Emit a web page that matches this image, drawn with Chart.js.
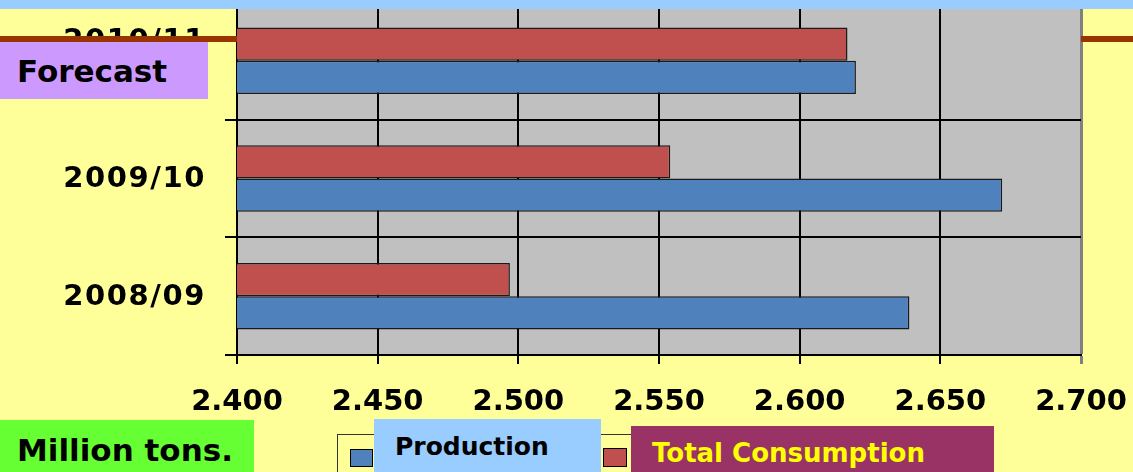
<!DOCTYPE html>
<html>
<head>
<meta charset="utf-8">
<script src="https://cdn.jsdelivr.net/npm/chart.js@4.4.1/dist/chart.umd.min.js"></script>
<style>
  body { margin: 0; background: #FFFF99; }
  #wrap {
    position: relative; width: 1133px; height: 472px; overflow: hidden;
    background: #FFFF99; font-family: "DejaVu Sans", Verdana, sans-serif; font-weight: bold;
  }
  canvas { position: absolute; left: 0; top: 0; }
  .box { position: absolute; white-space: nowrap; box-sizing: border-box; }
</style>
</head>
<body>
<div id="wrap">
  <canvas id="c" width="1133" height="472"></canvas>
  <div class="box" style="left:0;top:0;width:1133px;height:9px;background:#99CCFF"></div>
  <div class="box" style="left:0;top:42px;width:208px;height:57px;background:#CC99FF;color:#000;font-size:31px;line-height:59px;padding-left:17px">Forecast</div>
  <div class="box" style="left:0;top:420px;width:254px;height:60px;background:#66FF33;color:#000;font-size:31px;line-height:60px;padding-left:17px">Million tons.</div>
  <div id="legend"></div>
</div>
<script>
// Season categories (top to bottom) and values in million tons
const categories  = ['2010/11', '2009/10', '2008/09'];
const production  = [2620, 2672, 2639];
const consumption = [2617, 2554, 2497];

// Value axis range and tick spacing
const axisMin  = 2400;
const axisMax  = 2700;
const axisStep = 50;

const seriesNames  = ['Production', 'Total Consumption'];
const seriesColors = ['#4F81BD', '#C0504D'];

const FONT = '"DejaVu Sans", Verdana, sans-serif';

// "2400" -> "2.400"
function fmt(v) {
  const s = String(Math.round(v));
  return s.slice(0, s.length - 3) + '.' + s.slice(-3);
}

// Gray plot area behind the grid
const plotBackground = {
  id: 'plotBackground',
  beforeDraw(chart) {
    const { ctx, chartArea: a } = chart;
    ctx.save();
    ctx.fillStyle = '#C0C0C0';
    ctx.fillRect(a.left, a.top, a.right - a.left, a.bottom - a.top);
    ctx.restore();
  }
};

// Category labels on the left, plus the divider rule either side of the plot
const sideDecor = {
  id: 'sideDecor',
  afterDraw(chart) {
    const { ctx, chartArea: a, width } = chart;
    const y = chart.scales.y;
    ctx.save();
    ctx.font = 'bold 29px ' + FONT;
    ctx.fillStyle = '#000';
    ctx.textAlign = 'right';
    ctx.textBaseline = 'alphabetic';
    if ('letterSpacing' in ctx) ctx.letterSpacing = '1.6px';
    categories.forEach((label, i) => {
      const lift = i === 0 ? -20 : 0;
      ctx.fillText(label, a.left - 31, y.getPixelForTick(i) + 8.5 + lift);
    });
    if ('letterSpacing' in ctx) ctx.letterSpacing = '0px';
    ctx.fillStyle = '#993300';
    ctx.fillRect(0, 36, a.left, 6);
    ctx.fillRect(a.right, 36, width - a.right, 6);
    ctx.restore();
  }
};

const chart = new Chart(document.getElementById('c'), {
  type: 'bar',
  data: {
    labels: categories,
    datasets: [
      {
        label: seriesNames[1], data: consumption,
        backgroundColor: seriesColors[1], borderColor: '#1a1a1a', borderWidth: 1.5,
        categoryPercentage: 0.565, barPercentage: 1
      },
      {
        label: seriesNames[0], data: production,
        backgroundColor: seriesColors[0], borderColor: '#1a1a1a', borderWidth: 1.5,
        categoryPercentage: 0.565, barPercentage: 1
      }
    ]
  },
  options: {
    indexAxis: 'y',
    responsive: false,
    animation: false,
    layout: { padding: { top: 2, right: 52, left: 0, bottom: 0 } },
    plugins: { legend: { display: false }, tooltip: { enabled: false } },
    scales: {
      x: {
        min: axisMin, max: axisMax,
        border: { display: true, color: '#000', width: 2 },
        grid: {
          color: c => (c.tick && c.tick.value === axisMax) ? '#808080' : '#000',
          lineWidth: c => (c.tick && c.tick.value === axisMax) ? 3 : 2,
          tickLength: 9
        },
        ticks: {
          stepSize: axisStep,
          color: '#000',
          padding: 21,
          maxRotation: 0,
          font: { family: FONT, size: 29, weight: 'bold' },
          callback: v => fmt(v)
        },
        afterFit(scale) {
          scale.height = 117;
          scale.paddingLeft = 0;
          scale.paddingRight = 0;
        }
      },
      y: {
        border: { display: true, color: '#000', width: 2 },
        grid: { offset: true, color: '#000', lineWidth: 2, tickLength: 12 },
        ticks: { display: false },
        afterFit(scale) { scale.width = 237; }
      }
    }
  },
  plugins: [plotBackground, sideDecor]
});

// Legend: framed key with colour markers, label tiles on top
(function buildLegend() {
  const host = document.getElementById('legend');
  const frame = document.createElement('div');
  frame.className = 'box';
  frame.style.cssText = 'left:337px;top:434px;width:650px;height:60px;border:1.5px solid #333';
  host.appendChild(frame);

  const markers = [
    { left: 350, top: 449, w: 23, h: 18 },
    { left: 603, top: 448, w: 24, h: 19 }
  ];
  const tiles = [
    { left: 374, top: 419, w: 227, bg: '#99CCFF', fg: '#000', size: 25, lh: 55 },
    { left: 631, top: 426, w: 363, bg: '#993366', fg: '#FFFF00', size: 26, lh: 54 }
  ];
  seriesNames.forEach((name, i) => {
    const m = document.createElement('div');
    m.className = 'box';
    m.style.cssText = `left:${markers[i].left}px;top:${markers[i].top}px;width:${markers[i].w}px;height:${markers[i].h}px;background:${seriesColors[i]};border:1.5px solid #000`;
    host.appendChild(m);
    const t = document.createElement('div');
    t.className = 'box';
    t.textContent = name;
    t.style.cssText = `left:${tiles[i].left}px;top:${tiles[i].top}px;width:${tiles[i].w}px;height:60px;background:${tiles[i].bg};color:${tiles[i].fg};font-size:${tiles[i].size}px;line-height:${tiles[i].lh}px;padding-left:21px`;
    host.appendChild(t);
  });
})();
</script>
</body>
</html>
